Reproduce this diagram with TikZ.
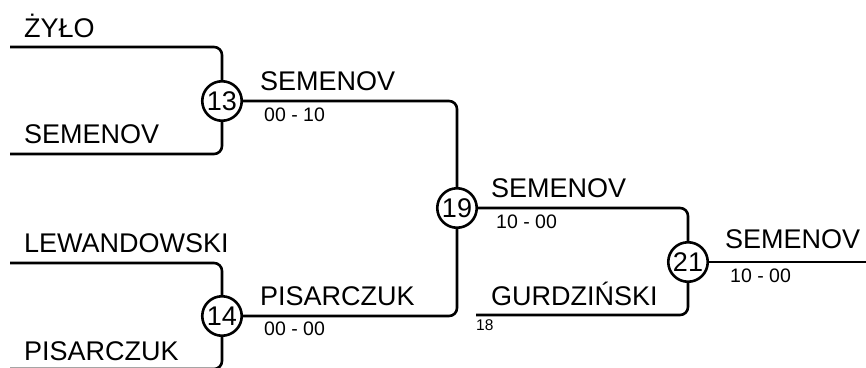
\documentclass[tikz,border=0pt]{standalone}
\usepackage{fontspec}
\setmainfont{Liberation Sans}
\begin{document}
\begin{tikzpicture}[x=1pt,y=-1pt,
  wire/.style={line width=2.6pt,rounded corners=8pt},
  matchno/.style={circle,draw,line width=2.6pt,fill=white,minimum size=39.5pt,inner sep=0pt,font=\fontsize{27}{30}\selectfont},
  plabel/.style={anchor=base west,inner sep=0pt,font=\fontsize{27}{30}\selectfont},
  pscore/.style={anchor=base west,inner sep=0pt,font=\fontsize{19.5}{22}\selectfont},
  pseed/.style={anchor=base west,inner sep=0pt,font=\fontsize{15.5}{17}\selectfont}]
\useasboundingbox (0,0) rectangle (866,367);
\clip (0,0) rectangle (866,367);
% free ends
\coordinate (a13) at (10,47);
\coordinate (b13) at (10,154);
\coordinate (a14) at (10,263);
\coordinate (b14) at (10,369);
\coordinate (g18) at (476,315);
\coordinate (fin) at (870,262);
% match circles
\node[matchno] (m13) at (222,101) {13};
\node[matchno] (m14) at (222,316) {14};
\node[matchno] (m19) at (457,208) {19};
\node[matchno] (m21) at (688,262) {21};
% connectors
\draw[wire] (a13) -| (m13);
\draw[wire] (b13) -| (m13);
\draw[wire] (a14) -| (m14);
\draw[wire] (b14) -| (m14);
\draw[wire] (m13) -| (m19);
\draw[wire] (m14) -| (m19);
\draw[wire] (m19) -| (m21);
\draw[wire] (g18) -| (m21);
\draw[wire] (m21) -- (fin);
% labels
\node[plabel] (t1) at (24,37) {ŻYŁO};
\node[plabel] (t2) at (24,143) {SEMENOV};
\node[plabel] (t3) at (24,252) {LEWANDOWSKI};
\node[plabel] (t4) at (24,360) {PISARCZUK};
\node[plabel] (t5) at (260,90) {SEMENOV};
\node[pscore] (s5) at (264,121) {00 - 10};
\node[plabel] (t6) at (260,305) {PISARCZUK};
\node[pscore] (s6) at (264,335) {00 - 00};
\node[plabel] (t7) at (491,197) {SEMENOV};
\node[pscore] (s7) at (496,228) {10 - 00};
\node[plabel] (t8) at (491,305) {GURDZIŃSKI};
\node[pseed] (s8) at (476,330) {18};
\node[plabel] (t9) at (725,248) {SEMENOV};
\node[pscore] (s9) at (730,282) {10 - 00};
\end{tikzpicture}
\end{document}
